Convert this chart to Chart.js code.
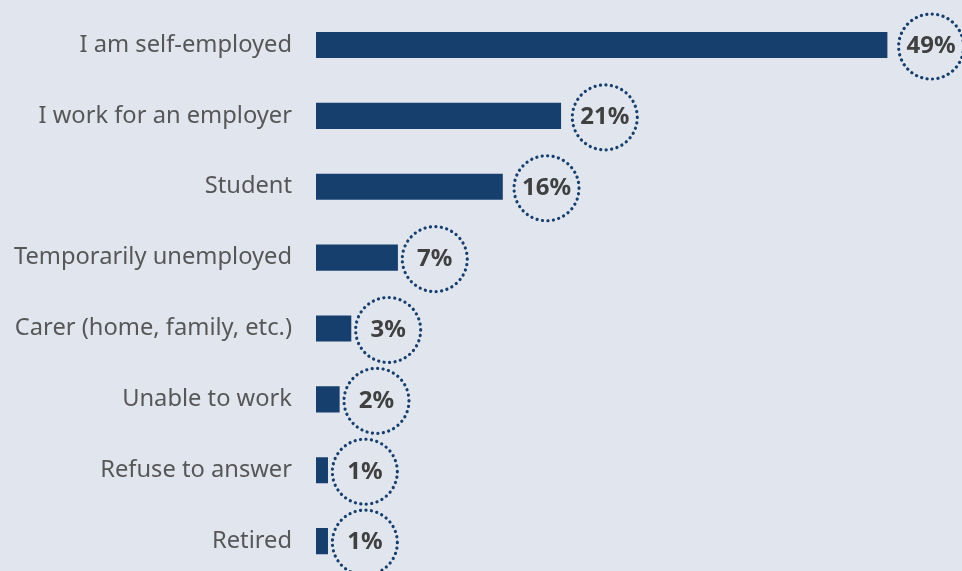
<!DOCTYPE html>
<html>
<head>
<meta charset="utf-8">
<script src="https://cdn.jsdelivr.net/npm/chart.js@4/dist/chart.umd.min.js"></script>
<style>
  html, body { margin: 0; padding: 0; background: #e1e6ee; overflow: hidden; }
  #wrap { width: 962px; height: 571px; overflow: hidden; position: relative; }
  canvas { display: block; }
</style>
</head>
<body>
<div id="wrap"><canvas id="c" width="962" height="590"></canvas></div>
<script>
// Employment status of respondents (%)
const categories = [
  'I am self-employed',
  'I work for an employer',
  'Student',
  'Temporarily unemployed',
  'Carer (home, family, etc.)',
  'Unable to work',
  'Refuse to answer',
  'Retired'
];
const shares = [49, 21, 16, 7, 3, 2, 1, 1];
const valueLabels = shares.map(v => v + '%');

const NAVY = '#173f6e';

// Dotted rings with the percentage, placed just past the end of each bar
const ringLabels = {
  id: 'ringLabels',
  afterDatasetsDraw(chart) {
    const { ctx } = chart;
    const meta = chart.getDatasetMeta(0);
    const xs = chart.scales.x;
    ctx.save();
    ctx.font = 'bold 24px "Noto Sans"';
    meta.data.forEach((bar, i) => {
      const tw = ctx.measureText(valueLabels[i]).width;
      const cx = xs.getPixelForValue(shares[i]) + 19.5 + tw / 2;
      const cy = bar.y + 1.5;
      const r = 32.5;
      ctx.beginPath();
      ctx.setLineDash([0.1, 5.4]);
      ctx.lineCap = 'round';
      ctx.lineWidth = 3.2;
      ctx.strokeStyle = NAVY;
      ctx.arc(cx, cy, r, 0, Math.PI * 2);
      ctx.stroke();
      ctx.setLineDash([]);
      ctx.fillStyle = '#404040';
      ctx.textAlign = 'center';
      ctx.textBaseline = 'middle';
      ctx.fillText(valueLabels[i], cx, cy);
    });
    ctx.restore();
  }
};

const chart = new Chart(document.getElementById('c'), {
  type: 'bar',
  data: {
    labels: categories,
    datasets: [{
      data: shares,
      backgroundColor: NAVY,
      borderWidth: 0,
      barThickness: 25.5
    }]
  },
  options: {
    responsive: false,
    indexAxis: 'y',
    animation: false,
    layout: { padding: { top: 9.6, bottom: 13.5, right: 5, left: 0 } },
    plugins: {
      legend: { display: false },
      tooltip: { enabled: false }
    },
    scales: {
      x: {
        min: 0,
        max: 55,
        display: false,
        grid: { display: false }
      },
      y: {
        grid: { display: false, drawTicks: false },
        border: { display: false },
        afterFit(scale) {
          scale.width = 316;
          scale.paddingTop = 0;
          scale.paddingBottom = 0;
        },
        ticks: {
          padding: 24,
          color: '#575757',
          font: { family: '"Noto Sans"', size: 23.7 }
        }
      }
    }
  },
  plugins: [ringLabels]
});
</script>
</body>
</html>
